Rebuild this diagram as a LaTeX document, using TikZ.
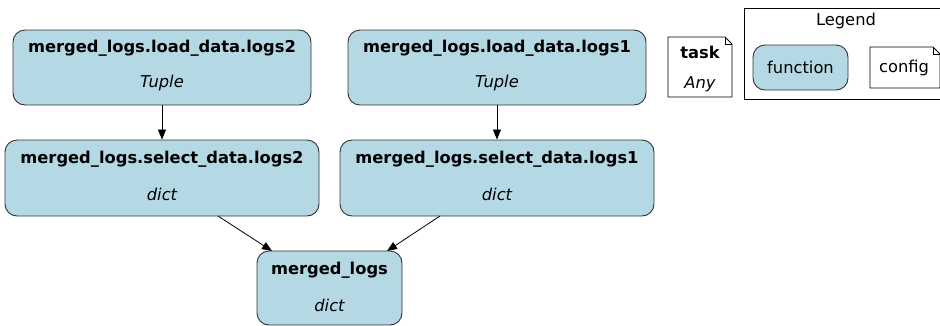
\documentclass[tikz,border=0pt]{standalone}
\usepackage{fontspec}
\setmainfont{DejaVu Sans}
\usetikzlibrary{arrows.meta,shapes.misc}
\definecolor{fnfill}{HTML}{B4D8E4}
\definecolor{edge}{HTML}{333333}
\begin{document}
\begin{tikzpicture}[x=1pt,y=-1pt,
  fnbox/.style={draw=edge,fill=fnfill,rounded corners=12pt,line width=0.9pt,minimum width=#1,minimum height=75pt,inner sep=0pt},
  fnbox/.default=298pt,
  lbl/.style={font=\fontsize{16.3}{18}\selectfont\bfseries},
  typ/.style={font=\fontsize{16.3}{18}\selectfont\itshape},
  plain/.style={font=\fontsize{16.3}{18}\selectfont},
  arr/.style={-{Triangle[length=10pt,width=8pt]},line width=0.8pt,black}]
\useasboundingbox (0,0) rectangle (940,325);
% function nodes
\node[fnbox=298pt] (ld2) at (162,67.5) {};
\node[lbl] at (162,48) {merged\_logs.load\_data.logs2};
\node[typ] at (162,83) {Tuple};
\node[fnbox=298pt] (ld1) at (497,67.5) {};
\node[lbl] at (497,48) {merged\_logs.load\_data.logs1};
\node[typ] at (497,83) {Tuple};
\node[fnbox=314pt,minimum height=76pt] (sd2) at (162,178) {};
\node[lbl] at (162,159) {merged\_logs.select\_data.logs2};
\node[typ] at (162,194) {dict};
\node[fnbox=314pt,minimum height=76pt] (sd1) at (497,178) {};
\node[lbl] at (497,159) {merged\_logs.select\_data.logs1};
\node[typ] at (497,194) {dict};
\node[fnbox=145pt,minimum height=74pt] (ml) at (329.5,288) {};
\node[lbl] at (329.5,270) {merged\_logs};
\node[typ] at (329.5,305) {dict};
% edges
\draw[arr] (ld2.south) -- (sd2.north);
\draw[arr] (ld1.south) -- (sd1.north);
\coordinate (s2b) at (218,216);
\coordinate (s1b) at (440,216);
\coordinate (mt1) at (272,251);
\coordinate (mt2) at (387,251);
\draw[arr] (s2b) -- (mt1);
\draw[arr] (s1b) -- (mt2);
% task note
\draw[line width=0.8pt] (668,37) -- (725,37) -- (732,44) -- (732,97) -- (668,97) -- cycle;
\draw[line width=0.6pt] (725,37) -- (725,44) -- (732,44);
\node[lbl] (task) at (700,52) {task};
\node[typ] at (700,84) {Any};
% legend
\draw[line width=0.8pt] (744,8) rectangle (945,99);
\node[plain] (leg) at (846,21) {Legend};
\node[plain,draw=edge,fill=fnfill,rounded corners=12pt,line width=0.9pt,minimum width=95pt,minimum height=45pt,inner sep=0pt] (lf) at (800.5,67.5) {function};
\draw[line width=0.8pt] (870,47) -- (933,47) -- (940,54) -- (940,88) -- (870,88) -- cycle;
\draw[line width=0.6pt] (933,47) -- (933,54) -- (940,54);
\node[plain] (cfg) at (904,67.5) {config};
\end{tikzpicture}
\end{document}
